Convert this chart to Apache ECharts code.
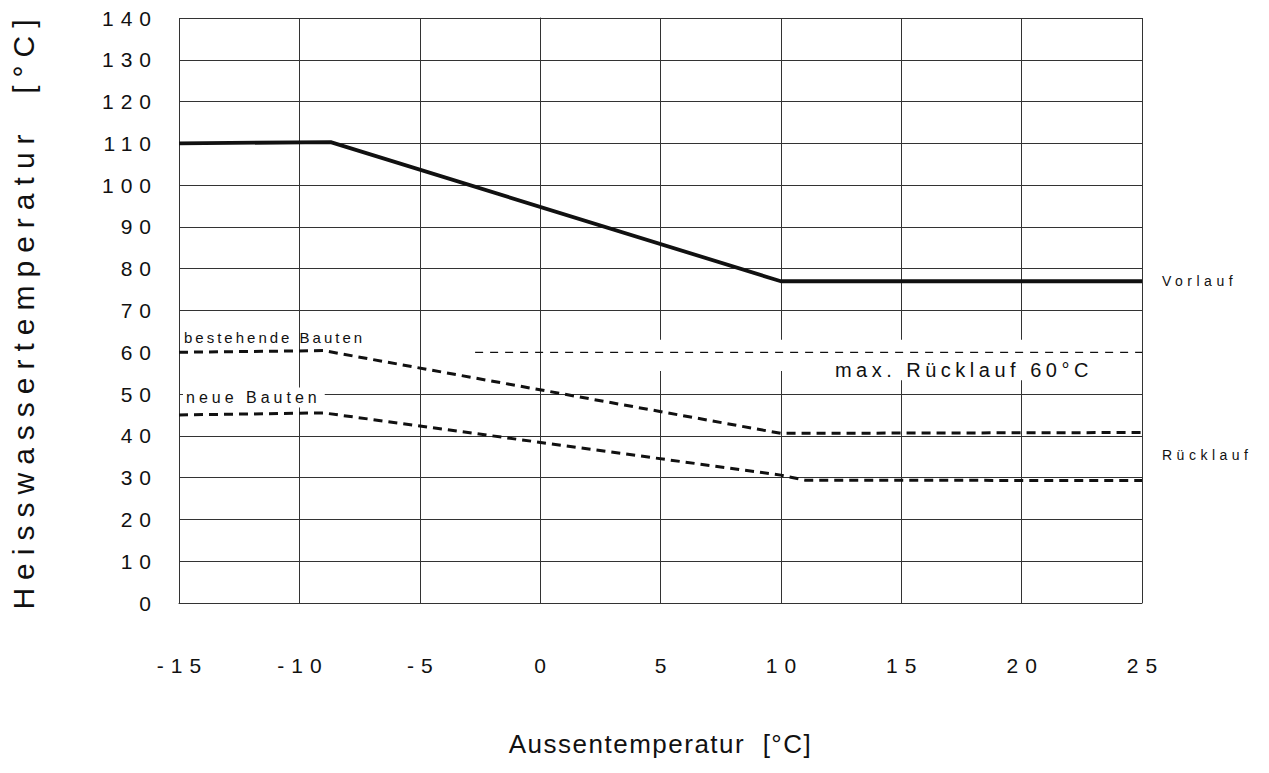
<!DOCTYPE html>
<html>
<head>
<meta charset="utf-8">
<script src="https://cdn.jsdelivr.net/npm/echarts@6/dist/echarts.min.js"></script>
<style>
  html, body { margin: 0; padding: 0; background: #fff; }
  #chart { width: 1269px; height: 773px; }
  /* letter spacing of the scanned original, picked by font size */
  #chart text[style*="21px"] { letter-spacing: 7px; }
  #chart text[style*="30px"] { letter-spacing: 8px; }
  #chart text[style*="26px"] { letter-spacing: 1.5px; }
  #chart text[style*="15px"] { letter-spacing: 3px; }
  #chart text[style*="16px"] { letter-spacing: 4px; }
  #chart text[style*="20px"] { letter-spacing: 4.5px; }
  #chart text[style*="14px"] { letter-spacing: 4.5px; }
</style>
</head>
<body>
<div id="chart"></div>
<script>
// Aussentemperatur (x) / Heisswassertemperatur (y)
var vorlaufX = [-15, -8.7, 10, 25];
var vorlaufY = [110, 110.3, 77, 77];

var bestehendeX = [-15, -9, 10, 25];
var bestehendeY = [60, 60.4, 40.6, 40.8];

var neueX = [-15, -9, 10, 11, 25];
var neueY = [45, 45.5, 30.6, 29.4, 29.3];

var maxRueckX = [-2.7, 25];
var maxRueckY = [60, 60];

var xTicks = [-15, -10, -5, 0, 5, 10, 15, 20, 25];
var yTicks = [0, 10, 20, 30, 40, 50, 60, 70, 80, 90, 100, 110, 120, 130, 140];

function pairs(xs, ys) {
  return xs.map(function (x, i) { return [x, ys[i]]; });
}

var ink = '#111';
var gridInk = '#333';
var font = '"Liberation Sans", Arial, sans-serif';

// the 60 line is not drawn in the original
var hLineColors = yTicks.map(function (v) {
  return v === 60 ? 'rgba(0,0,0,0)' : gridInk;
});

var myChart = echarts.init(document.getElementById('chart'), null, { renderer: 'svg' });

var option = {
  backgroundColor: '#fff',
  animation: false,
  textStyle: { fontFamily: font, color: ink },
  grid: { left: 178, right: 127, top: 18, bottom: 170 },
  xAxis: {
    type: 'value',
    min: xTicks[0],
    max: xTicks[xTicks.length - 1],
    interval: 5,
    name: 'Aussentemperatur  [°C]',
    nameLocation: 'middle',
    nameGap: 128,
    nameTextStyle: { fontSize: 26, color: ink, fontFamily: font },
    axisLine: { show: true, lineStyle: { color: gridInk, width: 1 } },
    axisTick: { show: false },
    axisLabel: { fontSize: 21, color: ink, margin: 52, padding: [0, 0, 0, 7], fontFamily: font },
    splitLine: { show: true, lineStyle: { color: gridInk, width: 1 } }
  },
  yAxis: {
    type: 'value',
    min: yTicks[0],
    max: yTicks[yTicks.length - 1],
    interval: 10,
    name: 'Heisswassertemperatur  [°C]',
    nameLocation: 'middle',
    nameGap: 141,
    nameTextStyle: { fontSize: 30, color: ink, fontFamily: font },
    axisLine: { show: true, lineStyle: { color: gridInk, width: 1 } },
    axisTick: { show: false },
    axisLabel: { fontSize: 21, color: ink, margin: 21, fontFamily: font },
    splitLine: { show: true, lineStyle: { color: hLineColors, width: 1 } }
  },
  series: [
    {
      // white patch behind "max. Rücklauf 60°C"
      name: 'mask',
      type: 'line',
      data: [],
      z: 1,
      silent: true,
      markArea: {
        silent: true,
        itemStyle: { color: '#fff' },
        data: [
          [{ coord: [2, 55.5] }, { coord: [12, 63] }],
          [{ coord: [12, 53.3] }, { coord: [24.9, 63] }]
        ]
      }
    },
    {
      name: 'Vorlauf',
      type: 'line',
      z: 3,
      symbol: 'none',
      data: pairs(vorlaufX, vorlaufY),
      lineStyle: { color: ink, width: 3.8 },
      endLabel: {
        show: true,
        formatter: '{a}',
        distance: 20,
        fontSize: 14,
        color: ink,
        fontFamily: font
      }
    },
    {
      name: 'bestehende Bauten',
      type: 'line',
      z: 3,
      symbol: 'none',
      data: pairs(bestehendeX, bestehendeY),
      lineStyle: { color: ink, width: 3, type: [9, 6] },
      markPoint: {
        symbol: 'circle',
        symbolSize: 0,
        silent: true,
        label: {
          show: true,
          position: 'right',
          distance: 5,
          fontSize: 15,
          color: ink,
          fontFamily: font,
          formatter: 'bestehende Bauten'
        },
        data: [{ coord: [-15, 63.6] }]
      }
    },
    {
      name: 'neue Bauten',
      type: 'line',
      z: 3,
      symbol: 'none',
      data: pairs(neueX, neueY),
      lineStyle: { color: ink, width: 3, type: [9, 6] },
      markPoint: {
        symbol: 'circle',
        symbolSize: 0,
        silent: true,
        label: {
          show: true,
          position: 'right',
          distance: 4,
          fontSize: 16,
          color: ink,
          fontFamily: font,
          backgroundColor: '#fff',
          padding: [2, 48, 2, 3],
          formatter: 'neue Bauten'
        },
        data: [{ coord: [-15, 49.2] }, { name: 'Rücklauf', coord: [25, 35.5], label: { formatter: 'Rücklauf', fontSize: 14, distance: 20, backgroundColor: 'transparent', padding: 0 } }]
      }
    },
    {
      name: 'max. Rücklauf 60°C',
      type: 'line',
      z: 3,
      symbol: 'none',
      data: pairs(maxRueckX, maxRueckY),
      lineStyle: { color: ink, width: 1.3, type: [8, 7] },
      markPoint: {
        symbol: 'circle',
        symbolSize: 0,
        silent: true,
        label: {
          show: true,
          position: 'inside',
          fontSize: 20,
          color: ink,
          fontFamily: font,
          formatter: 'max. Rücklauf 60°C'
        },
        data: [{ coord: [17.6, 55.8] }]
      }
    }
  ]
};

myChart.setOption(option);
</script>
</body>
</html>
